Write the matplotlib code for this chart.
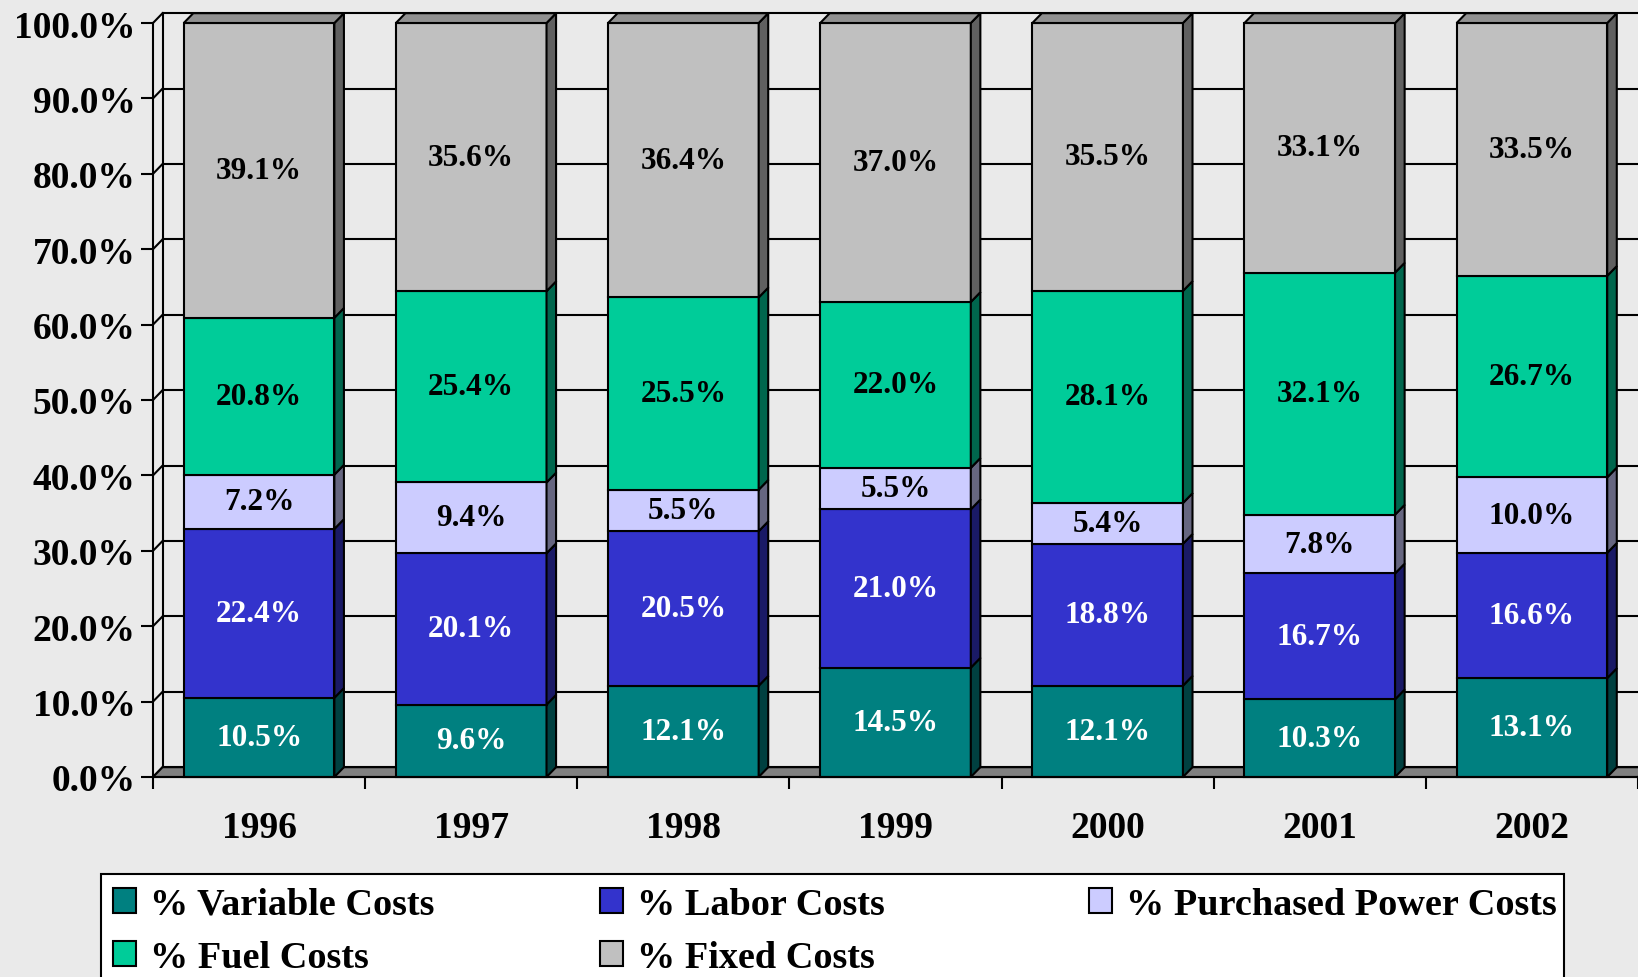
import matplotlib
matplotlib.use("Agg")
import matplotlib.pyplot as plt
import numpy as np
from matplotlib.colors import to_rgb
from matplotlib.patches import Patch, Polygon, Rectangle

plt.rcParams["font.family"] = ["Liberation Serif", "DejaVu Serif"]
plt.rcParams["font.weight"] = "bold"

years = ["1996", "1997", "1998", "1999", "2000", "2001", "2002"]
variable_costs = [10.5, 9.6, 12.1, 14.5, 12.1, 10.3, 13.1]
labor_costs = [22.4, 20.1, 20.5, 21.0, 18.8, 16.7, 16.6]
purchased_power = [7.2, 9.4, 5.5, 5.5, 5.4, 7.8, 10.0]
fuel_costs = [20.8, 25.4, 25.5, 22.0, 28.1, 32.1, 26.7]
fixed_costs = [39.1, 35.6, 36.4, 37.0, 35.5, 33.1, 33.5]

series = [variable_costs, labor_costs, purchased_power, fuel_costs, fixed_costs]
series_names = ["% Variable Costs", "% Labor Costs", "% Purchased Power Costs",
                "% Fuel Costs", "% Fixed Costs"]
series_colors = ["#008080", "#3333CC", "#CCCCFF", "#00CC99", "#C0C0C0"]
label_colors = ["white", "white", "black", "black", "black"]

BG = "#EAEAEA"
DX, DY = 0.045, 1.3   # fake 3d depth, in data units
BAR_W = 0.71
LW = 1.5
W, H = 1638, 978


def shade(color, factor):
    r, g, b = to_rgb(color)
    return (r * factor, g * factor, b * factor)


fig = plt.figure(figsize=(W / 100, H / 100), dpi=100, facecolor=BG)
ax = fig.add_axes([153 / W, 200 / H, 1485 / W, 754 / H])
ax.patch.set_visible(False)
x = np.arange(len(years))
ax.set_xlim(-0.5, len(years) - 0.5)
ax.set_ylim(0, 100)

# back wall, side wall and floor
left, right = -0.5, len(years) - 0.5
for v in range(0, 101, 10):
    ax.plot([left + DX, right + DX], [v + DY, v + DY], color="black", lw=LW, zorder=1, clip_on=False)
    ax.plot([left, left + DX], [v, v + DY], color="black", lw=LW, zorder=1, clip_on=False)
ax.plot([left + DX, left + DX], [DY, 100 + DY], color="black", lw=LW, zorder=1, clip_on=False)
ax.add_patch(Polygon([(left, 0), (left + DX, DY), (right + DX, DY), (right, 0)],
                     closed=True, fc="#808080", ec="black", lw=LW, zorder=1.5, clip_on=False))

totals = np.sum(series, axis=0)
bottoms = np.zeros(len(years))
for k, values in enumerate(series):
    heights = np.array(values) / totals * 100
    ax.bar(x, heights, BAR_W, bottom=bottoms, color=series_colors[k],
           edgecolor="black", lw=LW, zorder=3, clip_on=False)
    for i in range(len(years)):
        x1 = x[i] + BAR_W / 2
        y0, y1 = bottoms[i], bottoms[i] + heights[i]
        ax.add_patch(Polygon([(x1, y0), (x1 + DX, y0 + DY), (x1 + DX, y1 + DY), (x1, y1)],
                             closed=True, fc=shade(series_colors[k], 0.5), ec="black",
                             lw=LW, zorder=3, clip_on=False))
        if k == len(series) - 1:
            x0 = x[i] - BAR_W / 2
            ax.add_patch(Polygon([(x0, y1), (x0 + DX, y1 + DY), (x1 + DX, y1 + DY), (x1, y1)],
                                 closed=True, fc=shade(series_colors[k], 0.75), ec="black",
                                 lw=LW, zorder=3, clip_on=False))
        ax.text(x[i], y0 + heights[i] / 2, f"{values[i]:.1f}%", ha="center", va="center",
                fontsize=22.5, fontweight="bold", color=label_colors[k], zorder=5)
    bottoms = bottoms + heights

for side in ["top", "right"]:
    ax.spines[side].set_visible(False)
for side in ["left", "bottom"]:
    ax.spines[side].set_linewidth(LW)
    ax.spines[side].set_zorder(4)

ax.set_yticks(range(0, 101, 10))
ax.set_yticklabels([f"{v:.1f}%" for v in range(0, 101, 10)])
ax.tick_params(axis="y", direction="out", length=8.6, width=LW, labelsize=27, pad=4)

ax.set_xticks(np.arange(-0.5, len(years), 1.0))
ax.set_xticklabels([])
ax.set_xticks(x, minor=True)
ax.set_xticklabels(years, minor=True)
ax.tick_params(axis="x", which="major", direction="out", length=8.6, width=LW)
ax.tick_params(axis="x", which="minor", length=0, labelsize=27, pad=24)

# legend box runs off the bottom of the figure, like the original
fig.add_artist(Rectangle((101 / W, -0.05), (1564 - 101) / W, 1.05 - 875 / H,
                         transform=fig.transFigure, fc="white", ec="black", lw=LW,
                         zorder=5, clip_on=False))

# one legend per column so the columns sit where the original has them
columns = [[0, 3], [1, 4], [2]]
column_x = [113, 600, 1089]
for col, cx in zip(columns, column_x):
    handles = [Patch(fc=series_colors[k], ec="black", lw=LW) for k in col]
    labels = [series_names[k] for k in col]
    leg = fig.legend(handles, labels, loc="upper left", bbox_to_anchor=(cx / W, 1 - 888 / H),
                     fontsize=27.5, frameon=False, borderpad=0, borderaxespad=0,
                     handlelength=0.6, handleheight=0.6, handletextpad=0.37, labelspacing=0.47)
    leg.set_zorder(6)

fig.savefig("out.png", dpi=100, facecolor=BG)
